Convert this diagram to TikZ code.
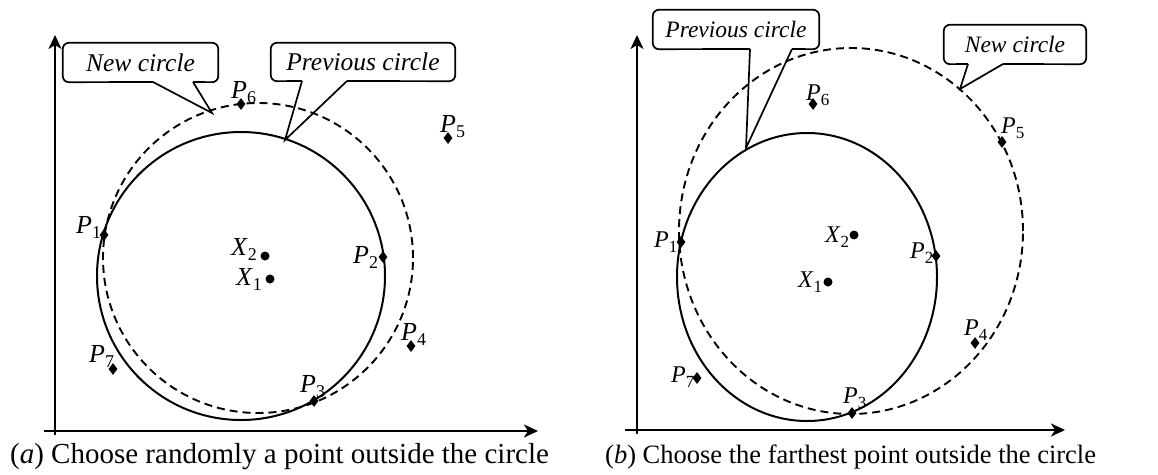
\documentclass[tikz,border=0pt]{standalone}
\usepackage{fontspec}
\setmainfont{Liberation Serif}
\usetikzlibrary{arrows.meta,shapes.geometric}
\newcommand{\subA}[1]{\raisebox{-5pt}{\fontsize{18}{18}\selectfont #1}}
\newcommand{\subB}[1]{\raisebox{-5pt}{\fontsize{17}{17}\selectfont #1}}
\tikzset{
  ax/.style={line width=2pt,-{Stealth[length=14pt,width=13pt,inset=4pt]}},
  prevc/.style={line width=2pt},
  newc/.style={line width=1.9pt,dash pattern=on 8pt off 5pt},
  dia/.style={diamond,fill=black,inner sep=0pt,minimum width=9pt,minimum height=12pt},
  ctr/.style={circle,fill=black,inner sep=0pt,minimum size=9pt},
  labA/.style={inner sep=0pt,anchor=base west,font=\fontsize{26}{28}\selectfont},
  labB/.style={inner sep=0pt,anchor=base west,font=\fontsize{24}{26}\selectfont},
  cbox/.style={line width=1.7pt,rounded corners=6pt},
  cline/.style={line width=1.7pt,line join=miter},
  ctxtA/.style={inner sep=0pt,font=\fontsize{25.5}{28}\selectfont\itshape},
  ctxtB/.style={inner sep=0pt,font=\fontsize{23.5}{26}\selectfont\itshape},
  capA/.style={inner sep=0pt,anchor=base west,font=\fontsize{29}{31}\selectfont},
  capB/.style={inner sep=0pt,anchor=base west,font=\fontsize{26.5}{28}\selectfont}
}
\begin{document}
\begin{tikzpicture}[x=1pt,y=-1pt]
\useasboundingbox[fill=white] (0,0) rectangle (1158,474);

% ---------------- Panel (a) ----------------
\coordinate (aO1) at (55,435);
\coordinate (aYt) at (55,35);
\coordinate (aO2) at (44,431);
\coordinate (aXt) at (538,431);
\draw[ax] (aO1) -- (aYt);
\draw[ax] (aO2) -- (aXt);

\draw[prevc] (241,276) circle[radius=144pt];
\draw[newc] (258,258) circle[radius=155pt];

\node[dia] (a1) at (104,235) {};
\node[dia] (a2) at (383,257) {};
\node[dia] (a3) at (314,401) {};
\node[dia] (a4) at (411,346) {};
\node[dia] (a5) at (448,138) {};
\node[dia] (a6) at (241,104) {};
\node[dia] (a7) at (113,369) {};
\node[ctr] (ax2) at (265,256) {};
\node[ctr] (ax1) at (270,279) {};

\node[labA] (la1) at (76,233) {\textit{P}\subA{1}};
\node[labA] (la2) at (353,263) {\textit{P}\subA{2}};
\node[labA] (la3) at (300,392) {\textit{P}\subA{3}};
\node[labA] (la4) at (401,340) {\textit{P}\subA{4}};
\node[labA] (la5) at (440,132) {\textit{P}\subA{5}};
\node[labA] (la6) at (231,98) {\textit{P}\subA{6}};
\node[labA] (la7) at (89,362) {\textit{P}\subA{7}};
\node[labA] (lax2) at (231,255) {\textit{X}\subA{2}};
\node[labA] (lax1) at (236,285) {\textit{X}\subA{1}};

% callouts (a)
\node[ctxtA,minimum width=155pt,minimum height=39pt] (anew) at (140.5,62.5) {New circle};
\coordinate (anb1) at (153,82);
\coordinate (anb2) at (193,82);
\coordinate (antip) at (212,113);
\draw[cbox] (anb2) -- (anew.south east) -- (anew.north east) -- (anew.north west) -- (anew.south west) -- (anb1);
\draw[cline] (anb1) -- (antip) -- (anb2);

\node[ctxtA,minimum width=184pt,minimum height=38pt] (aprev) at (363,62) {Previous circle};
\coordinate (apb1) at (302,81);
\coordinate (apb2) at (347,81);
\coordinate (aptip) at (285,140);
\draw[cbox] (apb2) -- (aprev.south east) -- (aprev.north east) -- (aprev.north west) -- (aprev.south west) -- (apb1);
\draw[cline] (apb1) -- (aptip) -- (apb2);

\node[capA] (capa) at (10,463) {(\textit{a}) Choose randomly a point outside the circle};

% ---------------- Panel (b) ----------------
\coordinate (bO1) at (637,434);
\coordinate (bYt) at (637,35);
\coordinate (bO2) at (625,430);
\coordinate (bXt) at (1065,430);
\draw[ax] (bO1) -- (bYt);
\draw[ax] (bO2) -- (bXt);

\draw[prevc] (807,277) ellipse[x radius=130pt,y radius=144pt];
\draw[newc] (851,231) ellipse[x radius=172pt,y radius=183pt];

\node[dia] (b1) at (681,242) {};
\node[dia] (b2) at (936,256) {};
\node[dia] (b3) at (852,413) {};
\node[dia] (b4) at (975,343) {};
\node[dia] (b5) at (1002,142) {};
\node[dia] (b6) at (813,104) {};
\node[dia] (b7) at (697,378) {};
\node[ctr] (bx2) at (854,235) {};
\node[ctr] (bx1) at (828,282) {};

\node[labB] (lb1) at (654,247) {\textit{P}\subB{1}};
\node[labB] (lb2) at (910,258) {\textit{P}\subB{2}};
\node[labB] (lb3) at (843,403) {\textit{P}\subB{3}};
\node[labB] (lb4) at (964,335) {\textit{P}\subB{4}};
\node[labB] (lb5) at (1001,133) {\textit{P}\subB{5}};
\node[labB] (lb6) at (806,100) {\textit{P}\subB{6}};
\node[labB] (lb7) at (671,382) {\textit{P}\subB{7}};
\node[labB] (lbx2) at (825,242) {\textit{X}\subB{2}};
\node[labB] (lbx1) at (798,287) {\textit{X}\subB{1}};

% callouts (b)
\node[ctxtB,minimum width=166pt,minimum height=39pt] (bprev) at (736,29.5) {Previous circle};
\coordinate (bpb1) at (750,49);
\coordinate (bpb2) at (792,49);
\coordinate (bptip) at (746,148);
\draw[cbox] (bpb2) -- (bprev.south east) -- (bprev.north east) -- (bprev.north west) -- (bprev.south west) -- (bpb1);
\draw[cline] (bpb1) -- (bptip) -- (bpb2);

\node[ctxtB,minimum width=142pt,minimum height=39pt] (bnew) at (1015,44.5) {New circle};
\coordinate (bnb1) at (968,64);
\coordinate (bnb2) at (1003,64);
\coordinate (bntip) at (960,89);
\draw[cbox] (bnb2) -- (bnew.south east) -- (bnew.north east) -- (bnew.north west) -- (bnew.south west) -- (bnb1);
\draw[cline] (bnb1) -- (bntip) -- (bnb2);

\node[capB] (capb) at (605,463) {(\textit{b}) Choose the farthest point outside the circle};
\end{tikzpicture}
\end{document}
